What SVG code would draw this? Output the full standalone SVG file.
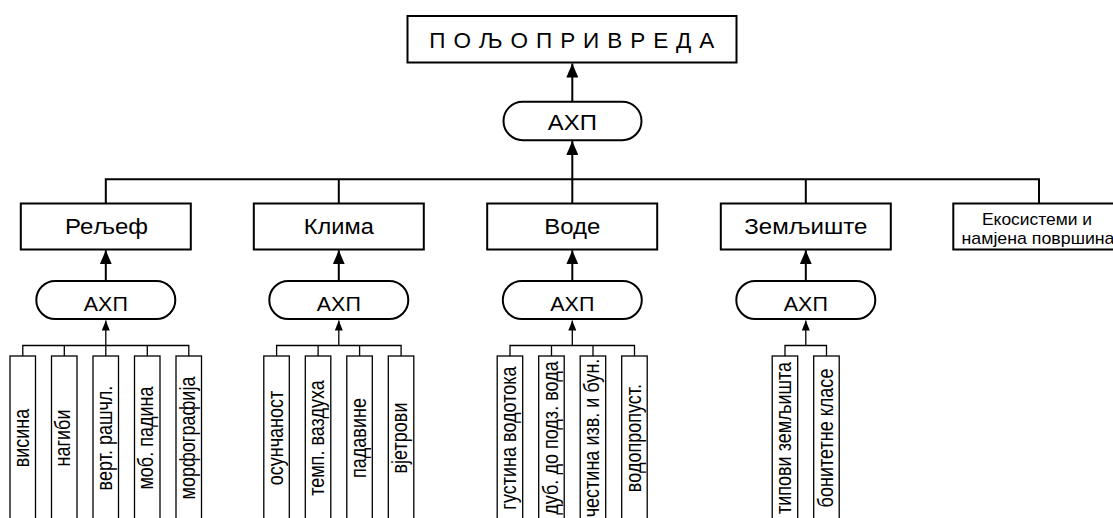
<svg xmlns="http://www.w3.org/2000/svg" width="1113" height="518" viewBox="0 0 1113 518">
<style>
.box{fill:#fff;stroke:#000;stroke-width:2}
.pill{fill:#fff;stroke:#000;stroke-width:2}
.leaf{fill:#fff;stroke:#000;stroke-width:1.3}
.ln{fill:none;stroke:#000;stroke-width:2}
.thin{fill:none;stroke:#000;stroke-width:1.3}
text{font-family:"Liberation Sans",Arial,sans-serif;fill:#000}
.lbl{font-size:21.5px;text-anchor:middle}
.ahp{font-size:20px;text-anchor:middle}
.lf{font-size:22px;text-anchor:middle}
.eko{font-size:17px;text-anchor:middle}
</style>
<defs>
<marker id="ah" viewBox="0 0 14 12" refX="14" refY="6" markerWidth="14" markerHeight="12" orient="auto" markerUnits="userSpaceOnUse"><path d="M0,0 L14,6 L0,12 z" fill="#000"/></marker>
<marker id="as" viewBox="0 0 10 8" refX="10" refY="4" markerWidth="10" markerHeight="8" orient="auto" markerUnits="userSpaceOnUse"><path d="M0,0 L10,4 L0,8 z" fill="#000"/></marker>
</defs>
<rect width="1113" height="518" fill="#fff"/>

<g id="connectors">
  <path class="ln" d="M572.3 101.7 V63.5" marker-end="url(#ah)"/>
  <path class="ln" d="M572.3 203.5 V141" marker-end="url(#ah)"/>
  <path class="ln" d="M105.8 203.5 V179.3 H1039 V203.5"/>
  <path class="ln" d="M338.8 203.5 V179.3"/>
  <path class="ln" d="M805.8 203.5 V179.3"/>
  <path class="ln" d="M105.8 281 V250.3" marker-end="url(#ah)"/>
  <path class="ln" d="M338.8 281 V250.3" marker-end="url(#ah)"/>
  <path class="ln" d="M572.3 281 V250.3" marker-end="url(#ah)"/>
  <path class="ln" d="M805.8 281 V250.3" marker-end="url(#ah)"/>
  <path class="thin" d="M105.8 345.5 V320.5" marker-end="url(#as)"/>
  <path class="thin" d="M338.8 345.5 V320.5" marker-end="url(#as)"/>
  <path class="thin" d="M572.3 345.5 V320.5" marker-end="url(#as)"/>
  <path class="thin" d="M805.8 345.5 V320.5" marker-end="url(#as)"/>
  <path class="thin" d="M22.8 356 V345.5 H188.8 V356 M64.3 345.5 V356 M105.8 345.5 V356 M147.3 345.5 V356"/>
  <path class="thin" d="M276.6 356 V345.5 H401.1 V356 M318.1 345.5 V356 M359.6 345.5 V356"/>
  <path class="thin" d="M510 356 V345.5 H634.5 V356 M551.5 345.5 V356 M593 345.5 V356"/>
  <path class="thin" d="M785 356 V345.5 H826.5 V356"/>
</g>

<g id="poljoprivreda">
  <rect class="box" x="407.5" y="16" width="329" height="46.5"/>
  <text x="429.3" y="47.8" font-size="22.5" textLength="285" lengthAdjust="spacing">ПОЉОПРИВРЕДА</text>
</g>
<g id="ahp-top">
  <rect class="pill" x="503.5" y="101.7" width="138" height="38.5" rx="19.25"/>
  <text x="572.3" y="130" font-size="22" text-anchor="middle" textLength="49" lengthAdjust="spacingAndGlyphs">АХП</text>
</g>

<g id="reljef">
  <rect class="box" x="20.8" y="203.5" width="170" height="46"/>
  <text class="lbl" x="106.5" y="234" textLength="83" lengthAdjust="spacingAndGlyphs">Рељеф</text>
</g>
<g id="klima">
  <rect class="box" x="253.8" y="203.5" width="170" height="46"/>
  <text class="lbl" x="338.8" y="234" textLength="70" lengthAdjust="spacingAndGlyphs">Клима</text>
</g>
<g id="vode">
  <rect class="box" x="487.2" y="203.5" width="170" height="46"/>
  <text class="lbl" x="572.2" y="234" textLength="56" lengthAdjust="spacingAndGlyphs">Воде</text>
</g>
<g id="zemljiste">
  <rect class="box" x="720.8" y="203.5" width="170" height="46"/>
  <text class="lbl" x="805.8" y="234" textLength="123" lengthAdjust="spacingAndGlyphs">Земљиште</text>
</g>
<g id="ekosistemi">
  <rect class="box" x="953.3" y="203.5" width="175" height="46"/>
  <text class="eko" x="1037" y="225" textLength="110" lengthAdjust="spacingAndGlyphs">Екосистеми и</text>
  <text class="eko" x="1038" y="244" textLength="153" lengthAdjust="spacingAndGlyphs">намјена површина</text>
</g>

<g id="ahp-reljef">
  <rect class="pill" x="36.3" y="281" width="139" height="38" rx="19"/>
  <text class="ahp" x="105.8" y="310.5" textLength="44" lengthAdjust="spacingAndGlyphs">АХП</text>
</g>
<g id="ahp-klima">
  <rect class="pill" x="269.3" y="281" width="139" height="38" rx="19"/>
  <text class="ahp" x="338.8" y="310.5" textLength="44" lengthAdjust="spacingAndGlyphs">АХП</text>
</g>
<g id="ahp-vode">
  <rect class="pill" x="502.8" y="281" width="139" height="38" rx="19"/>
  <text class="ahp" x="572.3" y="310.5" textLength="44" lengthAdjust="spacingAndGlyphs">АХП</text>
</g>
<g id="ahp-zemljiste">
  <rect class="pill" x="736.3" y="281" width="139" height="38" rx="19"/>
  <text class="ahp" x="805.8" y="310.5" textLength="44" lengthAdjust="spacingAndGlyphs">АХП</text>
</g>

<g id="leaf-visina"><rect class="leaf" x="10" y="356" width="25.5" height="180"/><text class="lf" transform="translate(22.8 438) rotate(-90) scale(0.82 1)" y="6">висина</text></g>
<g id="leaf-nagibi"><rect class="leaf" x="51.5" y="356" width="25.5" height="180"/><text class="lf" transform="translate(64.3 438) rotate(-90) scale(0.82 1)" y="6">нагиби</text></g>
<g id="leaf-vert"><rect class="leaf" x="93" y="356" width="25.5" height="180"/><text class="lf" transform="translate(105.8 438) rotate(-90) scale(0.82 1)" y="6">верт. рашчл.</text></g>
<g id="leaf-mob"><rect class="leaf" x="134.5" y="356" width="25.5" height="180"/><text class="lf" transform="translate(147.3 438) rotate(-90) scale(0.82 1)" y="6">моб. падина</text></g>
<g id="leaf-morf"><rect class="leaf" x="176" y="356" width="25.5" height="180"/><text class="lf" transform="translate(188.8 438) rotate(-90) scale(0.82 1)" y="6">морфографија</text></g>

<g id="leaf-osuncanost"><rect class="leaf" x="263.8" y="356" width="25.5" height="180"/><text class="lf" transform="translate(276.6 438) rotate(-90) scale(0.82 1)" y="6">осунчаност</text></g>
<g id="leaf-temp"><rect class="leaf" x="305.3" y="356" width="25.5" height="180"/><text class="lf" transform="translate(318.1 438) rotate(-90) scale(0.82 1)" y="6">темп. ваздуха</text></g>
<g id="leaf-padavine"><rect class="leaf" x="346.8" y="356" width="25.5" height="180"/><text class="lf" transform="translate(359.6 438) rotate(-90) scale(0.82 1)" y="6">падавине</text></g>
<g id="leaf-vjetrovi"><rect class="leaf" x="388.3" y="356" width="25.5" height="180"/><text class="lf" transform="translate(401.1 438) rotate(-90) scale(0.82 1)" y="6">вјетрови</text></g>

<g id="leaf-gustina"><rect class="leaf" x="497.2" y="356" width="25.5" height="180"/><text class="lf" transform="translate(510 438) rotate(-90) scale(0.82 1)" y="6">густина водотока</text></g>
<g id="leaf-dub"><rect class="leaf" x="538.7" y="356" width="25.5" height="180"/><text class="lf" transform="translate(551.5 438) rotate(-90) scale(0.82 1)" y="6">дуб. до подз. вода</text></g>
<g id="leaf-cestina"><rect class="leaf" x="580.2" y="356" width="25.5" height="180"/><text class="lf" transform="translate(593 438) rotate(-90) scale(0.82 1)" y="6">честина изв. и бун.</text></g>
<g id="leaf-vodopropust"><rect class="leaf" x="621.7" y="356" width="25.5" height="180"/><text class="lf" transform="translate(634.5 438) rotate(-90) scale(0.82 1)" y="6">водопропуст.</text></g>

<g id="leaf-tipovi"><rect class="leaf" x="772.2" y="356" width="25.5" height="180"/><text class="lf" transform="translate(785 438) rotate(-90) scale(0.82 1)" y="6">типови земљишта</text></g>
<g id="leaf-bonitetne"><rect class="leaf" x="813.7" y="356" width="25.5" height="180"/><text class="lf" transform="translate(826.5 438) rotate(-90) scale(0.82 1)" y="6">бонитетне класе</text></g>
</svg>
